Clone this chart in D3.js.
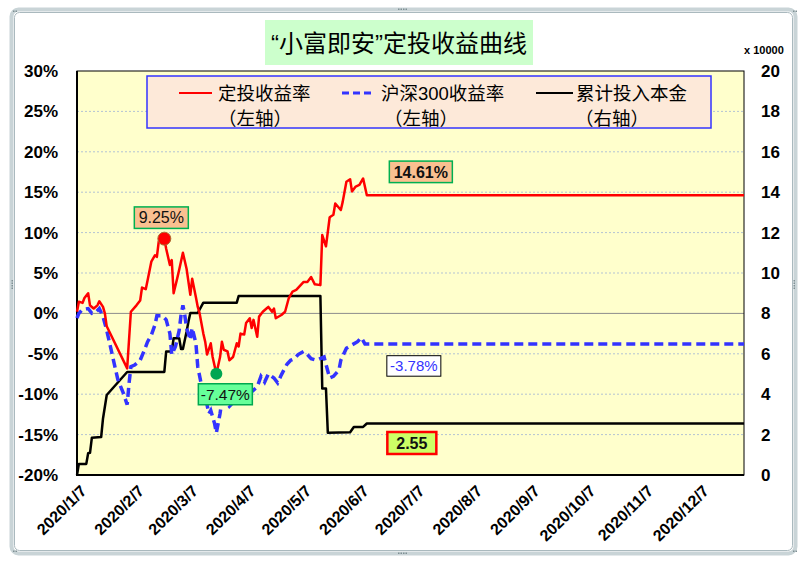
<!DOCTYPE html>
<html><head><meta charset="utf-8">
<script src="https://cdn.jsdelivr.net/npm/d3@7"></script>
<style>body{margin:0;background:#fff}svg{display:block}</style>
</head><body><svg id="c" width="804" height="564"></svg>
<script>
const titleText = "\u201C小富即安\u201D定投收益曲线";
const xTickDates = ["2020-01-07","2020-02-07","2020-03-07","2020-04-07","2020-05-07","2020-06-07","2020-07-07","2020-08-07","2020-09-07","2020-10-07","2020-11-07","2020-12-07"];
const leftTicks = [-20,-15,-10,-5,0,5,10,15,20,25,30];
const rightTicks = [0,2,4,6,8,10,12,14,16,18,20];
const legendNames = ["定投收益率","沪深300收益率","累计投入本金"];
const legendAxes = ["（左轴）","（左轴）","（右轴）"];
const highDate = "2020-02-23";
const lowDate = "2020-03-22";

const fundDates = ["2020-01-07","2020-01-08","2020-01-10","2020-01-11","2020-01-13","2020-01-14","2020-01-15","2020-01-16","2020-01-18","2020-01-19","2020-01-21","2020-01-22","2020-01-23","2020-02-03","2020-02-05","2020-02-08","2020-02-10","2020-02-11","2020-02-13","2020-02-14","2020-02-16","2020-02-18","2020-02-19","2020-02-20","2020-02-22","2020-02-23","2020-02-24","2020-02-26","2020-02-27","2020-02-28","2020-03-01","2020-03-02","2020-03-04","2020-03-06","2020-03-08","2020-03-09","2020-03-11","2020-03-12","2020-03-13","2020-03-15","2020-03-16","2020-03-17","2020-03-19","2020-03-20","2020-03-22","2020-03-24","2020-03-25","2020-03-26","2020-03-28","2020-03-29","2020-03-31","2020-04-02","2020-04-03","2020-04-04","2020-04-06","2020-04-07","2020-04-09","2020-04-10","2020-04-11","2020-04-13","2020-04-14","2020-04-16","2020-04-18","2020-04-19","2020-04-21","2020-04-22","2020-04-23","2020-04-26","2020-04-28","2020-04-30","2020-05-02","2020-05-04","2020-05-06","2020-05-08","2020-05-10","2020-05-12","2020-05-14","2020-05-17","2020-05-18","2020-05-20","2020-05-22","2020-05-24","2020-05-25","2020-05-28","2020-05-29","2020-05-31","2020-06-02","2020-06-03","2020-06-05","2020-06-07","2020-06-09","2020-06-11","2020-12-31"];
const fundReturn = [0.2,1.45,1.3,1.9,2.5,1.0,0.8,0.6,1.0,1.5,0.8,0.0,-1.6,-6.8,0.2,1.0,1.6,3.2,3.0,4.1,6.4,7.2,7.0,8.9,9.1,9.25,8.0,6.0,6.6,2.5,4.4,5.4,7.5,5.5,2.3,4.3,2.0,0.8,0.0,-2.5,-3.5,-5.1,-3.7,-5.4,-7.47,-5.4,-3.5,-4.5,-4.7,-5.8,-5.4,-3.7,-4.1,-2.5,-2.6,-1.2,-0.6,-1.8,-0.8,-2.9,-0.4,0.2,0.6,0.8,0.2,0.6,-0.6,-0.2,0.2,1.9,2.7,2.9,3.4,3.9,3.9,4.5,3.6,3.5,9.7,8.3,11.9,12.2,13.6,12.8,13.8,16.3,16.6,15.1,15.7,15.9,16.7,14.61,14.61];

const indexDates = ["2020-01-07","2020-01-08","2020-01-10","2020-01-13","2020-01-15","2020-01-17","2020-01-19","2020-01-21","2020-01-23","2020-01-25","2020-01-27","2020-01-29","2020-02-01","2020-02-03","2020-02-04","2020-02-05","2020-02-07","2020-02-10","2020-02-12","2020-02-14","2020-02-16","2020-02-18","2020-02-19","2020-02-22","2020-02-24","2020-02-26","2020-02-27","2020-02-29","2020-03-02","2020-03-03","2020-03-04","2020-03-05","2020-03-06","2020-03-08","2020-03-09","2020-03-11","2020-03-12","2020-03-14","2020-03-16","2020-03-18","2020-03-19","2020-03-21","2020-03-22","2020-03-24","2020-03-25","2020-03-27","2020-03-29","2020-04-01","2020-04-05","2020-04-08","2020-04-11","2020-04-13","2020-04-15","2020-04-17","2020-04-19","2020-04-22","2020-04-24","2020-04-26","2020-04-29","2020-05-01","2020-05-03","2020-05-05","2020-05-08","2020-05-10","2020-05-12","2020-05-15","2020-05-19","2020-05-20","2020-05-22","2020-05-24","2020-05-27","2020-05-28","2020-05-31","2020-06-03","2020-06-06","2020-06-08","2020-06-10","2020-12-31"];
const indexReturn = [-0.6,0.0,0.5,0.6,0.0,0.1,0.6,-0.4,-2.1,-4.1,-6.2,-8.2,-9.9,-11.3,-8.7,-6.6,-6.4,-5.8,-4.7,-3.5,-2.7,-1.4,-0.3,-0.3,-0.8,-2.5,-5.1,-4.1,-2.1,-0.2,1.0,-0.2,-1.8,-3.3,-1.8,-3.7,-6.6,-8.9,-10.3,-12.4,-12.0,-13.6,-14.8,-12.4,-10.7,-10.9,-11.5,-10.8,-9.7,-10.1,-9.5,-9.1,-7.8,-8.5,-7.5,-8.0,-8.6,-7.6,-6.3,-5.8,-5.6,-5.1,-4.7,-5.1,-5.6,-5.8,-5.4,-6.3,-8.0,-7.8,-7.0,-5.8,-4.3,-3.9,-3.5,-3.0,-3.78,-3.78];

const principalDates = ["2020-01-07","2020-01-08","2020-01-12","2020-01-13","2020-01-14","2020-01-15","2020-01-20","2020-01-21","2020-01-23","2020-02-03","2020-02-23","2020-02-24","2020-02-27","2020-02-28","2020-03-02","2020-03-03","2020-03-04","2020-03-06","2020-03-07","2020-03-08","2020-03-12","2020-03-15","2020-04-02","2020-04-03","2020-05-17","2020-05-18","2020-05-20","2020-05-21","2020-06-02","2020-06-04","2020-06-09","2020-06-11","2020-12-31"];
const principal = [0,0.55,0.55,1.08,1.1,1.85,1.88,2.8,3.96,5.1,5.1,6.12,6.12,6.77,6.77,6.24,6.24,7.1,7.6,8.02,8.02,8.53,8.53,8.86,8.86,4.28,4.28,2.09,2.12,2.38,2.38,2.55,2.55];

const parse = d3.timeParse("%Y-%m-%d");
const fmtTick = d3.timeFormat("%Y/%-m/%-d");
const M = {left:77, right:744, top:71, bottom:475};
const svg = d3.select("#c");
const latin = "'Liberation Sans', Arial, 'Noto Sans CJK SC', sans-serif";

const x = d3.scaleTime().domain([parse("2020-01-07"), parse("2020-12-31")]).range([M.left, M.right]);
const yL = d3.scaleLinear().domain([-20,30]).range([M.bottom, M.top]);
const yR = d3.scaleLinear().domain([0,20]).range([M.bottom, M.top]);

// outer frame
svg.append("rect").attr("x",0).attr("y",0).attr("width",804).attr("height",564).attr("fill","#fff");
svg.append("rect").attr("x",11.5).attr("y",9.5).attr("width",784).attr("height",544).attr("rx",7)
  .attr("fill","#fff").attr("stroke","#c9d4d7").attr("stroke-width",4);
svg.append("rect").attr("x",14.5).attr("y",12.5).attr("width",778).attr("height",538).attr("rx",5)
  .attr("fill","none").attr("stroke","#aab9be").attr("stroke-width",1);
const handles = [[398,9,"h"],[398,553,"h"],[12,280,"v"],[794,280,"v"],[13,11,"c"],[793,11,"c"],[13,551,"c"],[793,551,"c"]];
handles.forEach(([hx,hy,t])=>{
  const n = t==="c"?2:4;
  for(let i=0;i<n;i++){
    svg.append("rect").attr("x", t==="v"?hx-0.5:hx+i*2.5).attr("y", t==="v"?hy+i*2.5:hy-0.5)
      .attr("width",1.5).attr("height",1.5).attr("fill","#7f8f94");
  }
});

// plot area
svg.append("rect").attr("x",M.left).attr("y",M.top).attr("width",M.right-M.left).attr("height",M.bottom-M.top)
  .attr("fill","#ffffcc");
svg.append("g").selectAll("line").data(leftTicks.filter(v=>v!==-20 && v!==30)).join("line")
  .attr("x1",M.left).attr("x2",M.right).attr("y1",d=>yL(d)).attr("y2",d=>yL(d))
  .attr("stroke",d=>d===0?"#8c8c8c":"#b3c3d3").attr("stroke-width",1)
  .attr("stroke-dasharray",d=>d===0?null:"2,2");
svg.append("rect").attr("x",M.left).attr("y",M.top).attr("width",M.right-M.left).attr("height",M.bottom-M.top)
  .attr("fill","none").attr("stroke","#000").attr("stroke-width",1);
svg.append("line").attr("x1",M.left).attr("x2",M.left).attr("y1",M.top).attr("y2",M.bottom+1).attr("stroke","#000").attr("stroke-width",2);
svg.append("line").attr("x1",M.left-1).attr("x2",M.right).attr("y1",M.bottom).attr("y2",M.bottom).attr("stroke","#000").attr("stroke-width",2);

// axes
const axL = svg.append("g").attr("transform",`translate(${M.left},0)`)
  .call(d3.axisLeft(yL).tickValues(leftTicks).tickSize(0).tickPadding(19).tickFormat(d=>d+"%"));
const axR = svg.append("g").attr("transform",`translate(${M.right},0)`)
  .call(d3.axisRight(yR).tickValues(rightTicks).tickSize(0).tickPadding(17));
[axL,axR].forEach(a=>{
  a.select(".domain").remove();
  a.selectAll("text").attr("font-family",latin).attr("font-size",17).attr("font-weight","bold").attr("fill","#000");
});
svg.append("text").attr("x",744).attr("y",54).attr("font-family",latin).attr("font-size",11).attr("font-weight","bold")
  .text("x 10000");

const axB = svg.append("g").attr("transform",`translate(0,${M.bottom})`)
  .call(d3.axisBottom(x).tickValues(xTickDates.map(parse)).tickSize(0).tickFormat(fmtTick));
axB.select(".domain").remove();
axB.selectAll(".tick text")
  .attr("font-family",latin).attr("font-size",16).attr("font-weight","bold").attr("fill","#000")
  .attr("text-anchor","end").attr("dy",null).attr("y",null)
  .attr("transform","translate(10,17) rotate(-45)");

// lines
const mk = (dates, vals) => dates.map((d,i)=>({d:parse(d), v:vals[i]}));
const fund = mk(fundDates, fundReturn), idx = mk(indexDates, indexReturn), prin = mk(principalDates, principal);
const lineL = d3.line().x(p=>x(p.d)).y(p=>yL(p.v));
const lineR = d3.line().x(p=>x(p.d)).y(p=>yR(p.v));
svg.append("path").datum(prin).attr("d",lineR).attr("fill","none").attr("stroke","#000").attr("stroke-width",2.5).attr("stroke-linejoin","round");
svg.append("path").datum(idx).attr("d",lineL).attr("fill","none").attr("stroke","#3333ff").attr("stroke-width",3.5).attr("stroke-dasharray","9,5");
svg.append("path").datum(fund).attr("d",lineL).attr("fill","none").attr("stroke","#ff0000").attr("stroke-width",2.5).attr("stroke-linejoin","round");

// markers
const hiP = fund.find(p=>+p.d===+parse(highDate));
const loP = fund.find(p=>+p.d===+parse(lowDate));
svg.append("circle").attr("cx",x(hiP.d)).attr("cy",yL(hiP.v)).attr("r",6.5).attr("fill","#ff0000").attr("stroke","#b06a30").attr("stroke-width",1);
svg.append("circle").attr("cx",x(loP.d)).attr("cy",yL(loP.v)).attr("r",6).attr("fill","#00a651");

// label boxes
function box(cx, cy, w, h, text, o){
  svg.append("rect").attr("x",cx-w/2).attr("y",cy-h/2).attr("width",w).attr("height",h)
    .attr("fill",o.fill).attr("stroke",o.stroke).attr("stroke-width",o.sw);
  svg.append("text").attr("x",cx).attr("y",cy).attr("dy","0.36em").attr("text-anchor","middle")
    .attr("font-family",latin).attr("font-size",o.fs).attr("font-weight",o.bold?"bold":"normal")
    .attr("fill",o.color).text(text);
}
const last = fund[fund.length-1], lastI = idx[idx.length-1], lastP = prin[prin.length-1];
box(x(hiP.d)-3, yL(hiP.v)-21, 54, 21.5, hiP.v.toFixed(2)+"%", {fill:"#fac090",stroke:"#00b050",sw:1.5,fs:16,color:"#111"});
box(x(loP.d)+9, yL(loP.v)+20.5, 54, 21, loP.v.toFixed(2)+"%", {fill:"#66ff99",stroke:"#00a84f",sw:1.5,fs:15.5,color:"#111"});
const xLab = x(parse("2020-06-11"))+54;
box(xLab, yL(last.v)-23.5, 63, 21.5, last.v.toFixed(2)+"%", {fill:"#fac090",stroke:"#00b050",sw:1.5,fs:16,bold:true,color:"#111"});
box(xLab-7, yL(lastI.v)+22, 54, 20.5, lastI.v.toFixed(2)+"%", {fill:"#fff",stroke:"#000",sw:1,fs:15,color:"#3333ff"});
box(xLab-9, yR(lastP.v)+19.5, 49, 22, lastP.v.toFixed(2), {fill:"#ccff66",stroke:"#ff0000",sw:2.5,fs:16,bold:true,color:"#111"});

// legend
svg.append("rect").attr("x",147).attr("y",76).attr("width",564).attr("height",52)
  .attr("fill","#fde9d9").attr("stroke","#3333ff").attr("stroke-width",1.5);
const legItems = [
  {x1:179,x2:212,tx:218,ax:255,color:"#ff0000",dash:null,sw:2},
  {x1:342,x2:374,tx:381,ax:421,color:"#3333ff",dash:"7,4",sw:3},
  {x1:536,x2:573,tx:576,ax:612,color:"#000",dash:null,sw:2}
];
legItems.forEach((it,i)=>{
  svg.append("line").attr("x1",it.x1).attr("x2",it.x2).attr("y1",93).attr("y2",93)
    .attr("stroke",it.color).attr("stroke-width",it.sw).attr("stroke-dasharray",it.dash);
  svg.append("text").attr("x",it.tx).attr("y",100).attr("font-family",latin).attr("font-size",18.5).attr("fill","#000").text(legendNames[i]);
  svg.append("text").attr("x",it.ax).attr("y",124.5).attr("text-anchor","middle").attr("font-family",latin).attr("font-size",18.5).attr("fill","#000").text(legendAxes[i]);
});

// title
svg.append("rect").attr("x",265).attr("y",20).attr("width",268).attr("height",45).attr("fill","#ccffcc");
svg.append("text").attr("x",399).attr("y",52).attr("text-anchor","middle").attr("font-family",latin)
  .attr("font-size",24).attr("fill","#000").text(titleText);
</script></body></html>
